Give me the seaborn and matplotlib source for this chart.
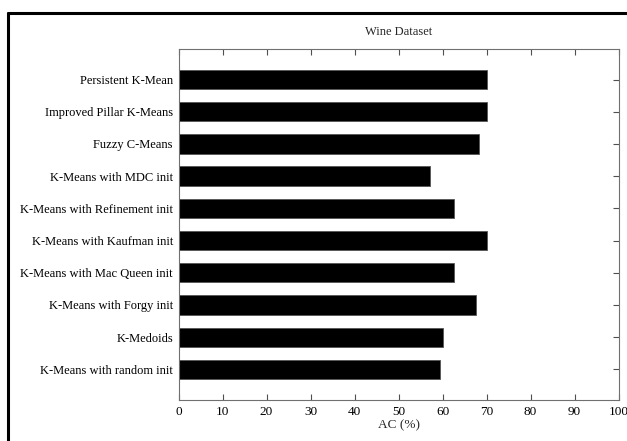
import matplotlib
matplotlib.use("Agg")
import matplotlib.pyplot as plt
import seaborn as sns
import pandas as pd
from matplotlib.lines import Line2D

methods = [
    "Persistent K-Mean",
    "Improved Pillar K-Means",
    "Fuzzy C-Means",
    "K-Means with MDC init",
    "K-Means with Refinement init",
    "K-Means with Kaufman init",
    "K-Means with Mac Queen init",
    "K-Means with Forgy init",
    "K-Medoids",
    "K-Means with random init",
]
ac_values = [70.2, 70.2, 68.4, 57.1, 62.6, 70.2, 62.5, 67.5, 60.0, 59.5]
x_ticks = [0, 10, 20, 30, 40, 50, 60, 70, 80, 90, 100]

df = pd.DataFrame({"method": methods, "ac": ac_values})

sns.set_theme(style="white")
plt.rcParams["font.family"] = ["Liberation Serif", "DejaVu Serif"]

fig = plt.figure(figsize=(6.27, 4.41), dpi=100)
ax = fig.add_axes([0.2847, 0.093, 0.7018, 0.796])

sns.barplot(data=df, x="ac", y="method", orient="h", color="black",
            width=0.6, ax=ax, saturation=1)
for p in ax.patches:
    p.set_edgecolor("#555555")
    p.set_linewidth(0.6)

fs = 9
ax.set_xlim(0, 100)
ax.set_ylim(9.95, -0.95)
ax.set_xticks(x_ticks)
ax.set_xticklabels([str(t) for t in x_ticks], fontsize=fs + 0.5)
ax.set_yticks(range(len(methods)))
ax.set_yticklabels(methods, fontsize=fs)
ax.set_xlabel("AC (%)", fontsize=fs + 0.5, labelpad=1)
ax.set_ylabel("")
ax.set_title("Wine Dataset", fontsize=fs, pad=10)

for s in ax.spines.values():
    s.set_visible(True)
    s.set_color("#707070")
    s.set_linewidth(0.8)
ax.tick_params(direction="in", length=4, width=0.8, color="#505050",
               top=True, right=True, left=True, bottom=True,
               labelcolor="black", pad=4)

fig.add_artist(Line2D([8 / 627, 8 / 627], [0, 1 - 13 / 441],
                      transform=fig.transFigure, color="black", linewidth=2.2))
fig.add_artist(Line2D([8 / 627, 1], [1 - 13 / 441, 1 - 13 / 441],
                      transform=fig.transFigure, color="black", linewidth=2.2))

fig.savefig("out.png", dpi=100)
